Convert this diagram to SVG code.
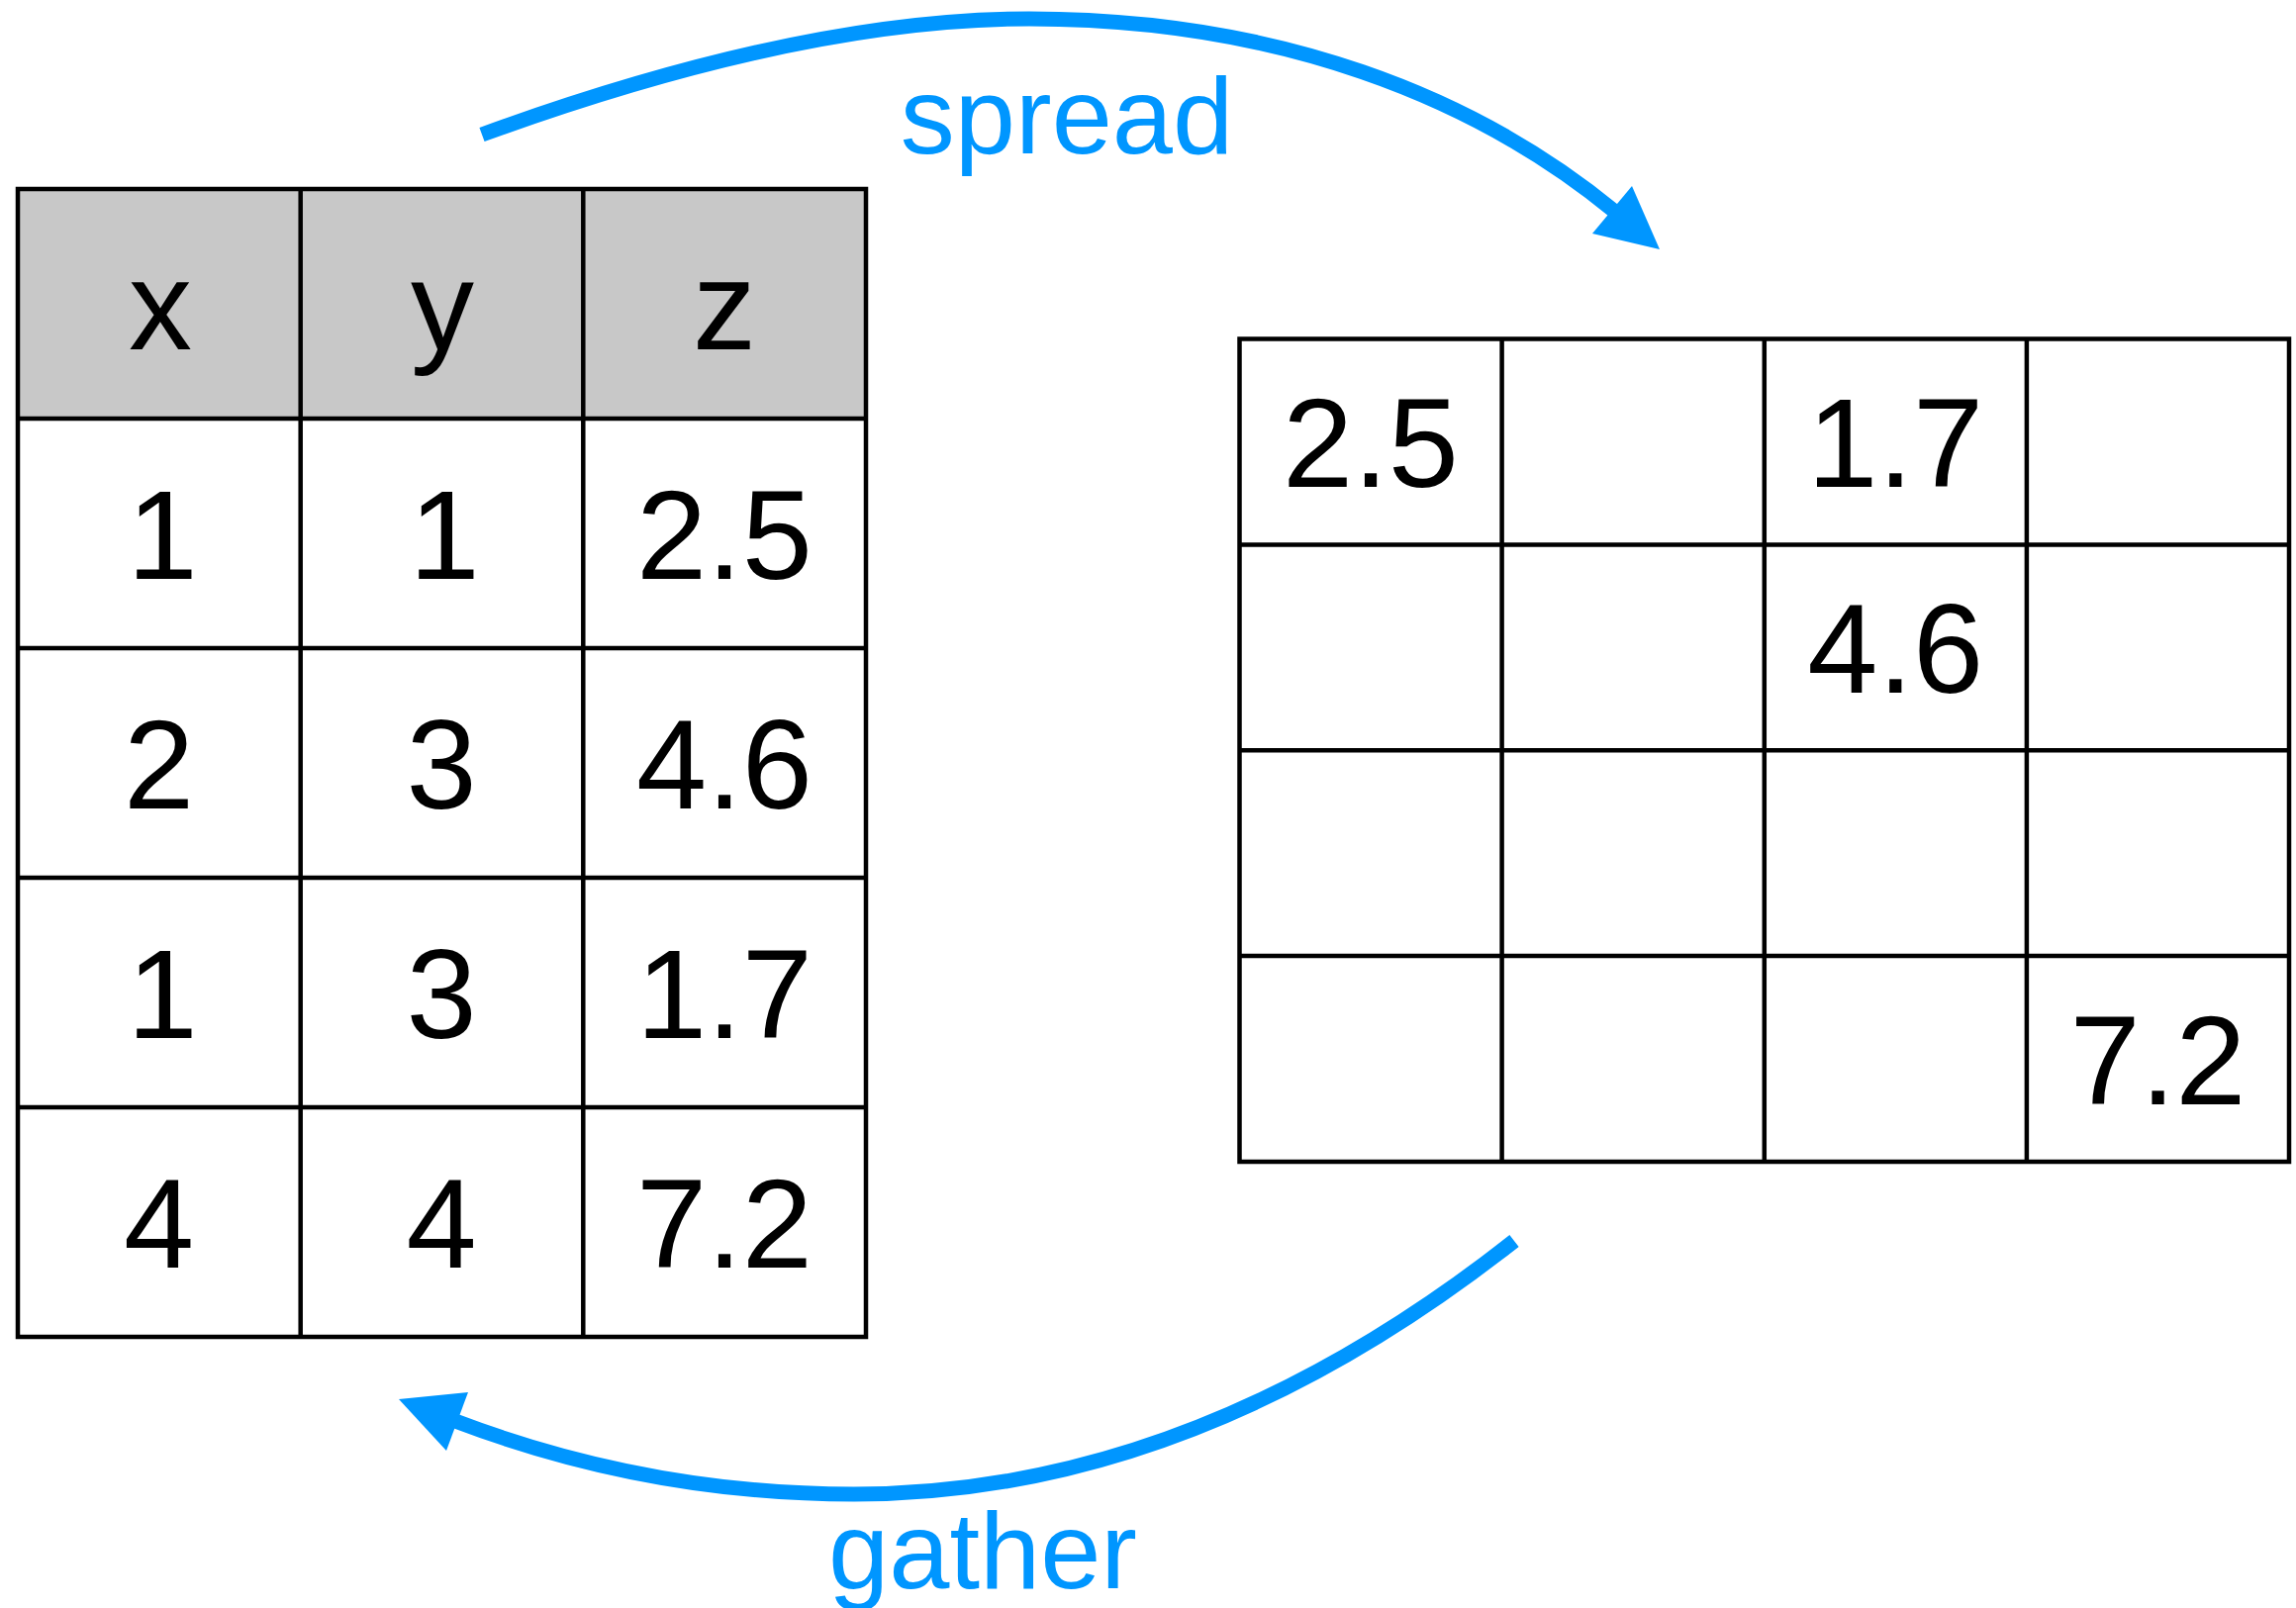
<svg xmlns="http://www.w3.org/2000/svg" width="2320" height="1625" viewBox="0 0 2320 1625">
  <defs>
    <style>
      .grid { fill: none; stroke: #000; stroke-width: 4.5; }
      .head { fill: #c8c8c8; }
      .cell { font-family: "Liberation Sans", Arial, Helvetica, sans-serif; font-size: 128px; fill: #000; text-anchor: middle; }
      .arc { fill: none; stroke: #0096ff; stroke-width: 15; stroke-linecap: butt; }
      .tip { fill: #0096ff; }
      .verb { font-family: "Liberation Sans", Arial, Helvetica, sans-serif; font-size: 110px; fill: #0096ff; text-anchor: middle; }
    </style>
  </defs>
  <rect width="2320" height="1625" fill="#fff"/>

  <!-- Tidy table: columns x, y, z -->
  <g id="tidy-table">
    <rect class="head" x="18" y="191" width="857" height="232"/>
    <rect class="grid" x="18" y="191" width="857" height="1160"/>
    <path class="grid" d="M303.7 191V1351M589.3 191V1351M18 423H875M18 655H875M18 887H875M18 1119H875"/>
    <text class="cell" x="162" y="353">x</text>
    <text class="cell" x="447" y="353">y</text>
    <text class="cell" x="732" y="353">z</text>
    <text class="cell" x="164" y="585">1</text>
    <text class="cell" x="449" y="585">1</text>
    <text class="cell" x="732" y="585">2.5</text>
    <text class="cell" x="160.5" y="817">2</text>
    <text class="cell" x="446" y="817">3</text>
    <text class="cell" x="732" y="817">4.6</text>
    <text class="cell" x="164" y="1049">1</text>
    <text class="cell" x="446" y="1049">3</text>
    <text class="cell" x="732" y="1049">1.7</text>
    <text class="cell" x="160.5" y="1281">4</text>
    <text class="cell" x="446" y="1281">4</text>
    <text class="cell" x="732" y="1281">7.2</text>
  </g>

  <!-- Wide grid: z placed at (x, y) -->
  <g id="wide-grid">
    <rect class="grid" x="1252.5" y="342.5" width="1060.5" height="831.5"/>
    <path class="grid" d="M1517.6 342.5V1174M1782.8 342.5V1174M2047.9 342.5V1174M1252.5 550.4H2313M1252.5 758.3H2313M1252.5 966.1H2313"/>
    <text class="cell" x="1385" y="492">2.5</text>
    <text class="cell" x="1915.3" y="492">1.7</text>
    <text class="cell" x="1915.3" y="700">4.6</text>
    <text class="cell" x="2180.5" y="1116">7.2</text>
  </g>

  <!-- Curved arrows between the two tables -->
  <g id="connectors">
    <g id="spread-arrow">
      <path class="arc" d="M487 136Q808 19 1040 19C1290 19 1490 97 1632 214"/>
      <polygon class="tip" points="1677,252 1649,188 1609,236"/>
    </g>
    <g id="gather-arrow">
      <path class="arc" d="M1530 1254Q1205 1510 863 1510Q655 1510 460 1436"/>
      <polygon class="tip" points="403,1414 473,1407 451,1466"/>
    </g>
  </g>

  <g id="labels">
    <text class="verb" x="1078" y="155">spread</text>
    <text class="verb" x="993" y="1605">gather</text>
  </g>
</svg>
